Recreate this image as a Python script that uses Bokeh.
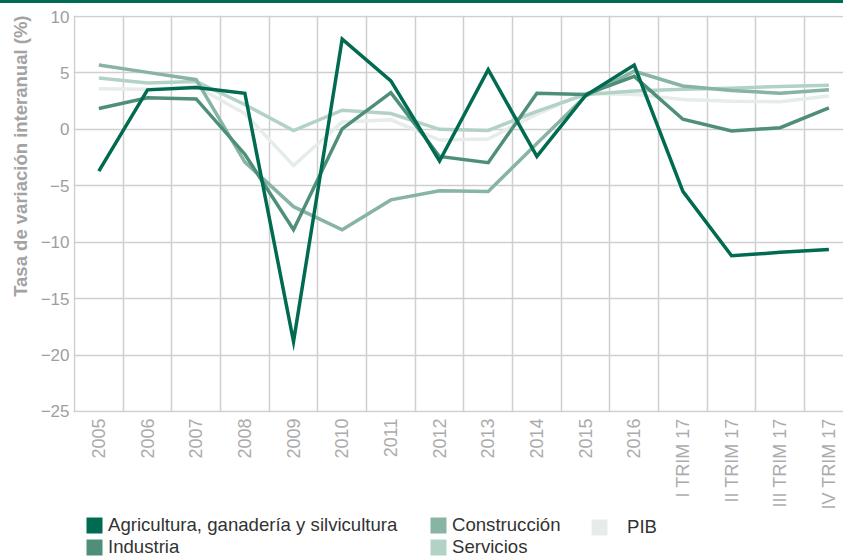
from math import pi
from bokeh.plotting import figure
from bokeh.layouts import column
from bokeh.models import (Range1d, FixedTicker, Legend, LegendItem, Title,
                          ColumnDataSource, Div)
from bokeh.embed import file_html
from bokeh.resources import INLINE

categories = ["2005", "2006", "2007", "2008", "2009", "2010", "2011", "2012",
              "2013", "2014", "2015", "2016", "I TRIM 17", "II TRIM 17",
              "III TRIM 17", "IV TRIM 17"]
agricultura = [-3.7, 3.5, 3.7, 3.2, -18.8, 8.0, 4.3, -2.8, 5.3, -2.4, 3.0, 5.7,
               -5.5, -11.2, -10.9, -10.65]
industria = [1.85, 2.8, 2.7, -2.2, -8.9, 0.05, 3.25, -2.4, -2.95, 3.2, 3.1, 4.7,
             0.9, -0.15, 0.15, 1.9]
construccion = [5.7, 5.05, 4.4, -2.9, -6.85, -8.9, -6.25, -5.45, -5.5, -1.25,
                2.95, 5.15, 3.85, 3.45, 3.2, 3.5]
servicios = [4.55, 4.1, 4.25, 2.2, -0.1, 1.7, 1.4, 0.0, -0.1, 1.6, 3.1, 3.4,
             3.55, 3.65, 3.8, 3.9]
pib = [3.6, 3.55, 3.8, 1.4, -3.2, 0.65, 0.85, -0.95, -0.85, 1.35, 3.2, 3.1,
       2.65, 2.5, 2.45, 2.95]
y_ticks = [-25, -20, -15, -10, -5, 0, 5, 10]

series = [
    ("PIB", pib, "#e6ecea"),
    ("Servicios", servicios, "#b3d2c6"),
    ("Construcción", construccion, "#87b4a3"),
    ("Industria", industria, "#4f8f7a"),
    ("Agricultura, ganadería y silvicultura", agricultura, "#006b50"),
]

xs = list(range(len(categories)))

bar = Div(text="", width=843, height=3, margin=0,
          styles={"background-color": "#006b50"})

p = figure(width=843, height=509, output_backend="svg", toolbar_location=None,
           x_range=Range1d(-0.5206, 15.30), y_range=Range1d(-25.09, 10.09),
           min_border_left=73, min_border_right=0, min_border_top=12,
           min_border_bottom=100)
p.outline_line_color = None
p.background_fill_color = "white"
p.border_fill_color = "white"

# grid
p.xgrid.ticker = FixedTicker(ticks=[i - 0.5 for i in range(len(categories) + 1)])
p.ygrid.ticker = FixedTicker(ticks=y_ticks)
for g in (p.xgrid, p.ygrid):
    g.grid_line_color = "#cfcfcf"
    g.grid_line_width = 1.5

# axes
p.xaxis.ticker = FixedTicker(ticks=xs)
p.xaxis.major_label_overrides = {i: c for i, c in enumerate(categories)}
p.xaxis.major_label_orientation = pi / 2
p.yaxis.ticker = FixedTicker(ticks=y_ticks)
for ax in (p.xaxis, p.yaxis):
    ax.axis_line_color = None
    ax.major_tick_line_color = None
    ax.minor_tick_line_color = None
    ax.major_tick_out = 0
    ax.major_tick_in = 0
    ax.minor_tick_out = 0
    ax.minor_tick_in = 0
    ax.major_label_text_font = "Liberation Sans"
p.xaxis.major_label_text_font_size = "18px"
p.xaxis.major_label_text_color = "#ababab"
p.xaxis.major_label_standoff = 6
p.yaxis.major_label_text_font_size = "17px"
p.yaxis.major_label_text_color = "#9e9e9e"
p.yaxis.major_label_standoff = 4

ytitle = Title(text="Tasa de variación interanual (%)", align="right",
               text_font="Liberation Sans", text_font_size="18.5px",
               text_font_style="bold", text_color="#a3a3a3", standoff=14)
p.add_layout(ytitle, "left")

q = figure(width=843, height=46, output_backend="svg", toolbar_location=None,
           x_range=Range1d(0, 1), y_range=Range1d(0, 1),
           min_border_left=0, min_border_right=0, min_border_top=0,
           min_border_bottom=0)
q.axis.visible = False
q.grid.visible = False
q.outline_line_color = None

items = {}
for name, vals, color in series:
    src = ColumnDataSource(dict(x=xs, y=vals))
    p.line("x", "y", source=src, line_color=color, line_width=3.5,
           line_join="miter")
    # zero-area swatch proxy (only its legend glyph is visible)
    sw = q.quad(left="x", right="x", top="y", bottom="y", source=src,
                fill_color=color, line_color=None)
    items[name] = LegendItem(label=name, renderers=[sw])


def make_legend(names, loc, standoff=4):
    return Legend(items=[items[n] for n in names], location=loc,
                  margin=0, padding=0, spacing=0,
                  glyph_width=20, glyph_height=20, label_height=20,
                  label_standoff=standoff, label_text_font="Liberation Sans",
                  label_text_font_size="18.6px", label_text_color="#333333",
                  border_line_color=None, background_fill_alpha=0)


q.add_layout(make_legend(["Agricultura, ganadería y silvicultura", "Industria"],
                         (11, 0)), "center")
q.add_layout(make_legend(["Construcción", "Servicios"], (355, 0)), "center")
q.add_layout(make_legend(["PIB"], (516, 20), standoff=18), "center")

layout = column(bar, p, q, spacing=0)
open("out.html", "w").write(file_html(layout, INLINE))
